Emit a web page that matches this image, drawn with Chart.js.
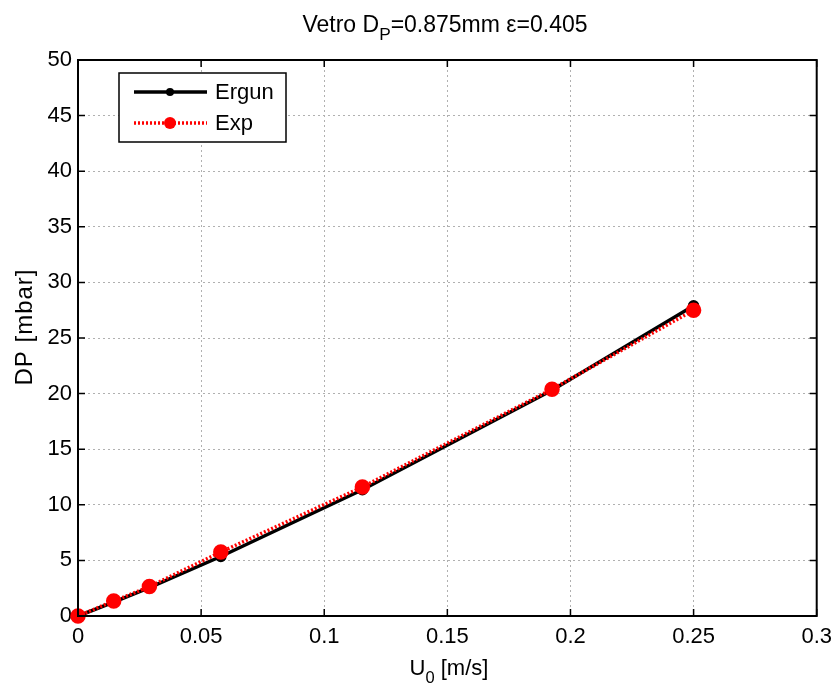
<!DOCTYPE html>
<html>
<head>
<meta charset="utf-8">
<script src="https://cdn.jsdelivr.net/npm/chart.js@4.4.0/dist/chart.umd.min.js"></script>
<style>
  html, body { margin: 0; padding: 0; background: #fff; }
  #wrap { width: 840px; height: 689px; }
</style>
</head>
<body>
<div id="wrap"><canvas id="chart"></canvas></div>
<script>
// data
const uValues = [0, 0.0145, 0.029, 0.058, 0.1155, 0.1925, 0.25];
const ergunDP = [0, 1.25, 2.55, 5.35, 11.35, 20.3, 27.9];
const expDP = [0, 1.35, 2.65, 5.75, 11.6, 20.4, 27.5];
const seriesNames = ['Ergun', 'Exp'];

const FONT = '"Liberation Sans", Arial, sans-serif';

function pts(ys) {
  return uValues.map((u, i) => ({ x: u, y: ys[i] }));
}

// draws text pieces, some of them as subscripts
function drawRich(ctx, parts, x, y, size, align) {
  const sub = size * 0.75;
  let total = 0;
  parts.forEach(p => {
    ctx.font = (p.sub ? sub : size) + 'px ' + FONT;
    total += ctx.measureText(p.t).width;
  });
  let cx = align === 'center' ? x - total / 2 : x;
  ctx.textAlign = 'left';
  ctx.textBaseline = 'alphabetic';
  parts.forEach(p => {
    ctx.font = (p.sub ? sub : size) + 'px ' + FONT;
    ctx.fillText(p.t, cx, p.sub ? y + size * 0.35 : y);
    cx += ctx.measureText(p.t).width;
  });
}

const decor = {
  id: 'decor',
  afterDraw(chart) {
    const { ctx, chartArea: a, scales: { x, y } } = chart;
    ctx.save();

    // inward ticks
    ctx.strokeStyle = '#000';
    ctx.lineWidth = 1.5;
    ctx.beginPath();
    x.ticks.forEach(t => {
      const px = x.getPixelForValue(t.value);
      ctx.moveTo(px, a.bottom); ctx.lineTo(px, a.bottom - 7);
      ctx.moveTo(px, a.top); ctx.lineTo(px, a.top + 7);
    });
    y.ticks.forEach(t => {
      const py = y.getPixelForValue(t.value);
      ctx.moveTo(a.left, py); ctx.lineTo(a.left + 7, py);
      ctx.moveTo(a.right, py); ctx.lineTo(a.right - 7, py);
    });
    ctx.stroke();

    // axes box
    ctx.lineWidth = 2;
    ctx.strokeRect(a.left, a.top, a.right - a.left, a.bottom - a.top);

    // legend
    const lx = 119, ly = 73, lw = 167, lh = 69;
    ctx.fillStyle = '#fff';
    ctx.fillRect(lx, ly, lw, lh);
    ctx.lineWidth = 1.5;
    ctx.strokeStyle = '#000';
    ctx.strokeRect(lx, ly, lw, lh);
    chart.data.datasets.forEach((ds, i) => {
      const ry = ly + 19 + i * 31;
      ctx.strokeStyle = ds.borderColor;
      ctx.lineWidth = ds.borderWidth;
      ctx.setLineDash(ds.borderDash || []);
      ctx.beginPath();
      ctx.moveTo(lx + 15, ry); ctx.lineTo(lx + 88, ry);
      ctx.stroke();
      ctx.setLineDash([]);
      ctx.fillStyle = ds.pointBackgroundColor;
      ctx.beginPath();
      ctx.arc(lx + 51, ry, ds.pointRadius, 0, Math.PI * 2);
      ctx.fill();
      ctx.fillStyle = '#000';
      ctx.font = '22px ' + FONT;
      ctx.textAlign = 'left';
      ctx.textBaseline = 'middle';
      ctx.fillText(ds.label, lx + 96, ry + 1);
    });

    // title and axis titles
    ctx.fillStyle = '#000';
    drawRich(ctx, [{ t: 'Vetro D' }, { t: 'P', sub: true }, { t: '=0.875mm \u03b5=0.405' }], 445, 32, 23, 'center');
    drawRich(ctx, [{ t: 'U' }, { t: '0', sub: true }, { t: ' [m/s]' }], 449, 675, 22, 'center');
    ctx.translate(32, 327);
    ctx.rotate(-Math.PI / 2);
    ctx.font = '24px ' + FONT;
    ctx.textAlign = 'center';
    ctx.textBaseline = 'alphabetic';
    if ('letterSpacing' in ctx) ctx.letterSpacing = '1px';
    ctx.fillText('DP [mbar]', 0, 0);
    ctx.restore();
  }
};

new Chart(document.getElementById('chart'), {
  type: 'line',
  data: {
    datasets: [
      {
        label: seriesNames[0],
        data: pts(ergunDP),
        borderColor: '#000',
        borderWidth: 3.5,
        pointBackgroundColor: '#000',
        pointBorderColor: '#000',
        pointRadius: 4,
        order: 2
      },
      {
        label: seriesNames[1],
        data: pts(expDP),
        borderColor: '#ff0000',
        borderWidth: 3.5,
        borderDash: [2, 2],
        pointBackgroundColor: '#ff0000',
        pointBorderColor: '#ff0000',
        pointRadius: 6,
        order: 1
      }
    ]
  },
  options: {
    responsive: true,
    maintainAspectRatio: false,
    animation: false,
    clip: false,
    layout: { padding: { left: 0, top: 60, right: 23, bottom: 0 } },
    plugins: { legend: { display: false }, tooltip: { enabled: false } },
    elements: { line: { tension: 0 } },
    scales: {
      x: {
        type: 'linear',
        min: 0,
        max: 0.3,
        afterFit: s => { s.height = 73; },
        ticks: {
          stepSize: 0.05,
          padding: 8,
          color: '#000',
          font: { family: FONT, size: 22 },
          callback: v => String(Number(v.toFixed(2)))
        },
        grid: { color: '#b0b0b0', lineWidth: 1, drawTicks: false },
        border: { display: false, dash: [2, 3] }
      },
      y: {
        min: 0,
        max: 50,
        afterFit: s => { s.width = 78; },
        ticks: {
          stepSize: 5,
          padding: 6,
          color: '#000',
          font: { family: FONT, size: 22 }
        },
        grid: { color: '#b0b0b0', lineWidth: 1, drawTicks: false },
        border: { display: false, dash: [2, 3] }
      }
    }
  },
  plugins: [decor]
});
</script>
</body>
</html>
